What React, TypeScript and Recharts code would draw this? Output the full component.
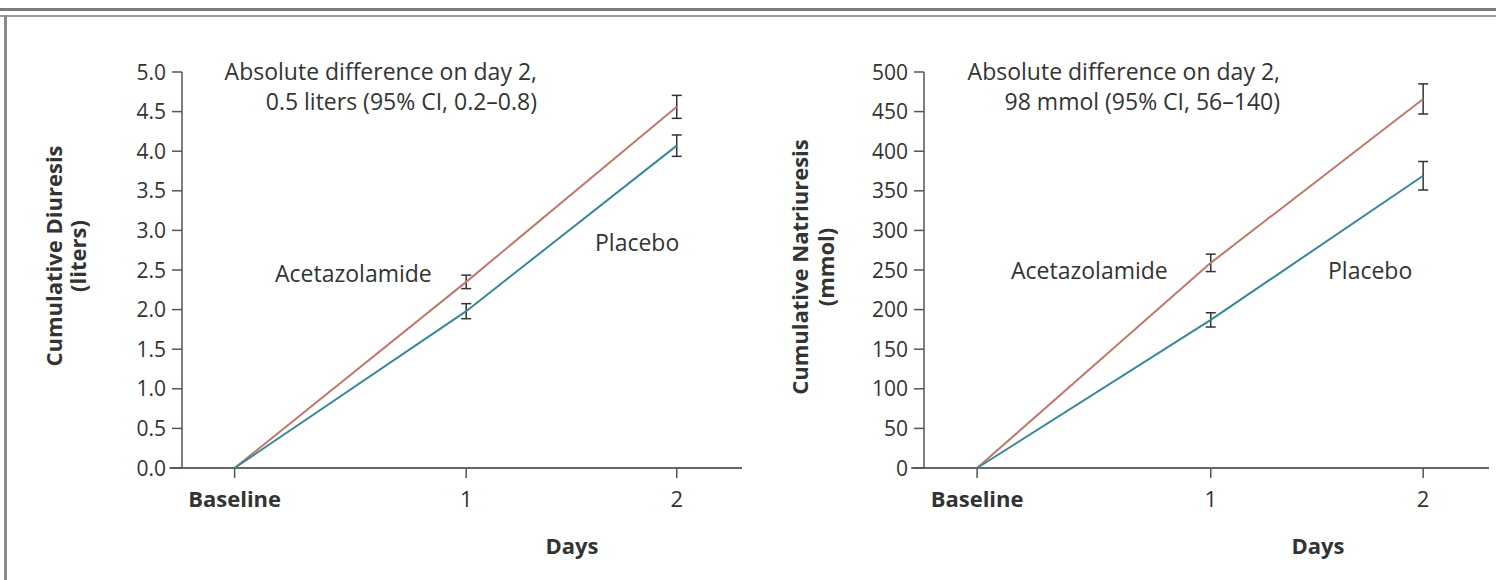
import React from 'react';
import { LineChart, Line, XAxis, YAxis, ErrorBar, ReferenceLine } from 'recharts';

// x categories: baseline sits a little before day 0 on the original time axis
const dayLabels = ['Baseline', '1', '2'];
const dayPositions = [-0.1, 1, 2];

// cumulative diuresis (liters), mean and half-width of 95% CI
const diuresisAcetazolamide = [0, 2.35, 4.56];
const diuresisAcetazolamideCI = [null, 0.085, 0.145];
const diuresisPlacebo = [0, 1.98, 4.07];
const diuresisPlaceboCI = [null, 0.095, 0.135];
const diuresisTicks = [0, 0.5, 1, 1.5, 2, 2.5, 3, 3.5, 4, 4.5, 5];

// cumulative natriuresis (mmol)
const natriuresisAcetazolamide = [0, 259, 466];
const natriuresisAcetazolamideCI = [null, 11, 19];
const natriuresisPlacebo = [0, 187, 369];
const natriuresisPlaceboCI = [null, 9, 18];
const natriuresisTicks = [0, 50, 100, 150, 200, 250, 300, 350, 400, 450, 500];

const FONT = "'Open Sans', sans-serif";
const TEXT = '#333';
const AXIS = '#555';
const ACET_COLOR = '#c0796c';
const PLACEBO_COLOR = '#3a8797';

const buildData = (acet: number[], acetCI: (number | null)[], plac: number[], placCI: (number | null)[]) =>
  dayPositions.map((day, i) => ({
    day,
    acet: acet[i],
    acetErr: acetCI[i],
    plac: plac[i],
    placErr: placCI[i],
  }));

const XTick = (props: any) => {
  const { x, y, payload } = props;
  const label = dayLabels[dayPositions.indexOf(payload.value)];
  return (
    <text x={x} y={y} dy="0.71em" textAnchor="middle" fontSize={22} fontFamily={FONT}
      fontWeight={label === 'Baseline' ? 700 : 400} fill={TEXT}>
      {label}
    </text>
  );
};

const makeYTick = (digits: number) => (props: any) => {
  const { x, y, payload } = props;
  return (
    <text x={x} y={y} dy="0.36em" textAnchor="end" fontSize={21} fontFamily={FONT} fill={TEXT}>
      {Number(payload.value).toFixed(digits)}
    </text>
  );
};

interface PanelProps {
  left: number;
  data: any[];
  yMax: number;
  yTicks: number[];
  digits: number;
  margin: { top: number; right: number; bottom: number; left: number };
  title: string[];
  titleX: number[];
  titleY: number;
  note: string[];
  noteX: number;
  acetLabel: { x: number; y: number };
  placLabel: { x: number; y: number };
  daysX: number;
}

const Panel: React.FC<PanelProps> = (p) => (
  <div style={{ position: 'absolute', left: p.left, top: 0, width: 748, height: 580 }}>
    <LineChart width={748} height={580} data={p.data} margin={p.margin}>
      <XAxis
        dataKey="day"
        type="number"
        domain={[-0.35, 2.31]}
        ticks={dayPositions}
        allowDataOverflow
        axisLine={false}
        tickLine={{ stroke: AXIS, strokeWidth: 1.5 }}
        tickSize={10}
        tickMargin={13}
        height={40}
        tick={<XTick />}
      />
      <YAxis
        type="number"
        domain={[0, p.yMax]}
        ticks={p.yTicks}
        width={60}
        axisLine={{ stroke: AXIS, strokeWidth: 1.5 }}
        tickLine={{ stroke: AXIS, strokeWidth: 1.5 }}
        tickSize={10}
        tickMargin={6}
        tick={makeYTick(p.digits)}
      />
      <ReferenceLine
        segment={[{ x: -0.41, y: 0 }, { x: 2.31, y: 0 }]}
        stroke="#666"
        strokeWidth={2}
        ifOverflow="visible"
      />
      <Line type="linear" dataKey="acet" stroke={ACET_COLOR} strokeWidth={2} dot={false} isAnimationActive={false}>
        <ErrorBar dataKey="acetErr" direction="y" width={5} stroke="#333" strokeWidth={1.5} />
      </Line>
      <Line type="linear" dataKey="plac" stroke={PLACEBO_COLOR} strokeWidth={2} dot={false} isAnimationActive={false}>
        <ErrorBar dataKey="placErr" direction="y" width={5} stroke="#333" strokeWidth={1.5} />
      </Line>
    </LineChart>
    <svg width={748} height={580} style={{ position: 'absolute', left: 0, top: 0, pointerEvents: 'none' }}
      fontFamily={FONT} fill={TEXT}>
      {p.title.map((t, i) => (
        <text key={t} x={p.titleX[i]} y={p.titleY} transform={`rotate(-90 ${p.titleX[i]} ${p.titleY})`}
          textAnchor="middle" fontSize={22} fontWeight={700}>
          {t}
        </text>
      ))}
      {p.note.map((t, i) => (
        <text key={t} x={p.noteX} y={80 + i * 30} textAnchor="end" fontSize={23}>{t}</text>
      ))}
      <text x={p.acetLabel.x} y={p.acetLabel.y} fontSize={23}>Acetazolamide</text>
      <text x={p.placLabel.x} y={p.placLabel.y} fontSize={23}>Placebo</text>
      <text x={p.daysX} y={554} textAnchor="middle" fontSize={22} fontWeight={700}>Days</text>
    </svg>
  </div>
);

export default function App() {
  const diuresisData = buildData(diuresisAcetazolamide, diuresisAcetazolamideCI, diuresisPlacebo, diuresisPlaceboCI);
  const natriuresisData = buildData(natriuresisAcetazolamide, natriuresisAcetazolamideCI, natriuresisPlacebo, natriuresisPlaceboCI);

  return (
    <div style={{ position: 'absolute', left: 0, top: 0, width: 1496, height: 580, background: '#fff', overflow: 'hidden' }}>
      <div style={{ position: 'absolute', left: 0, top: 8, width: 1496, height: 3, background: '#7d7d7d' }} />
      <div style={{ position: 'absolute', left: 0, top: 15, width: 1496, height: 2, background: '#9a9a9a' }} />
      <div style={{ position: 'absolute', left: 4, top: 15, width: 3, height: 565, background: '#8a8a8a' }} />
      <Panel
        left={0}
        data={diuresisData}
        yMax={5}
        yTicks={diuresisTicks}
        digits={1}
        margin={{ top: 72, right: 6, bottom: 72, left: 122 }}
        title={['Cumulative Diuresis', '(liters)']}
        titleX={[62, 86]}
        titleY={256}
        note={['Absolute difference on day 2,', '0.5 liters (95% CI, 0.2–0.8)']}
        noteX={537}
        acetLabel={{ x: 275, y: 282 }}
        placLabel={{ x: 595, y: 251 }}
        daysX={572}
      />
      <Panel
        left={748}
        data={natriuresisData}
        yMax={500}
        yTicks={natriuresisTicks}
        digits={0}
        margin={{ top: 72, right: 7, bottom: 72, left: 116 }}
        title={['Cumulative Natriuresis', '(mmol)']}
        titleX={[60, 86]}
        titleY={267}
        note={['Absolute difference on day 2,', '98 mmol (95% CI, 56–140)']}
        noteX={532}
        acetLabel={{ x: 263, y: 279 }}
        placLabel={{ x: 580, y: 279 }}
        daysX={570}
      />
    </div>
  );
}
